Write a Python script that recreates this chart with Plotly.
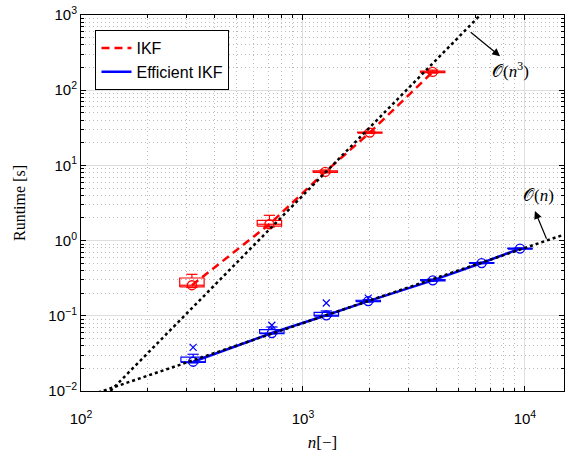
import plotly.graph_objects as go

# ---- data ----
n_ikf = [316, 706, 1260, 2000, 3840]
ikf_mid = [0.255, 1.65, 8.2, 27.3, 175]
ikf_q1 = [0.242, 1.56, 8.05, 26.9, 171]
ikf_q3 = [0.318, 1.86, 8.45, 27.8, 179]
ikf_hi = [0.356, 2.17, 8.7, 28.5, 185]
ikf_lo = [0.238, 1.52, 7.95, 26.6, 169]

n_eff = [320, 724, 1274, 1968, 3846, 6383, 9500]
eff_mid = [0.0245, 0.059, 0.1016, 0.157, 0.296, 0.503, 0.783]
eff_q1 = [0.0240, 0.058, 0.099, 0.154, 0.291, 0.496, 0.772]
eff_q3 = [0.0283, 0.0656, 0.111, 0.161, 0.303, 0.510, 0.792]
eff_hi = [0.0308, 0.071, 0.116, 0.164, 0.308, 0.515, 0.800]
eff_lo = [0.0236, 0.0572, 0.098, 0.152, 0.288, 0.492, 0.766]
eff_out_n = [320, 724, 1274, 1968]
eff_out = [0.038, 0.0748, 0.148, 0.172]

ref_cubic_n = [100, 6500]
ref_cubic_y = [0.004, 1100]
ref_linear_n = [100, 15000]
ref_linear_y = [0.008, 1.2]

x_tick_vals = [100, 1000, 10000]
x_tick_text = ["10<sup>2</sup>", "10<sup>3</sup>", "10<sup>4</sup>"]
y_tick_vals = [0.01, 0.1, 1, 10, 100, 1000]
y_tick_text = ["10<sup>−2</sup>", "10<sup>−1</sup>", "10<sup>0</sup>",
               "10<sup>1</sup>", "10<sup>2</sup>", "10<sup>3</sup>"]
minor_mult = [2, 3, 4, 5, 6, 7, 8, 9]
x_minor_vals = [m * d for d in [100, 1000, 10000] for m in minor_mult if m * d <= 15000]
y_minor_vals = [m * d for d in [0.01, 0.1, 1, 10, 100] for m in minor_mult]

RED = "#ff0000"
BLUE = "#0000ff"

BOX_F = 1.135   # half box width as multiplicative factor on the log x axis
CAP_F = 1.06


def box_path(ns, q1, q3, mid, hi, lo):
    xs, ys = [], []
    for n, a, b, m, h, l in zip(ns, q1, q3, mid, hi, lo):
        x0, x1 = n / BOX_F, n * BOX_F
        c0, c1 = n / CAP_F, n * CAP_F
        xs += [x0, x1, x1, x0, x0, None, x0, x1, None,
               n, n, None, c0, c1, None, n, n, None, c0, c1, None]
        ys += [a, a, b, b, a, None, m, m, None,
               b, h, None, h, h, None, a, l, None, l, l, None]
    return xs, ys


fig = go.Figure()

bx, by = box_path(n_ikf, ikf_q1, ikf_q3, ikf_mid, ikf_hi, ikf_lo)
fig.add_trace(go.Scatter(x=bx, y=by, mode="lines", line=dict(color=RED, width=1.2),
                         showlegend=False, hoverinfo="skip"))
bx, by = box_path(n_eff, eff_q1, eff_q3, eff_mid, eff_hi, eff_lo)
fig.add_trace(go.Scatter(x=bx, y=by, mode="lines", line=dict(color=BLUE, width=1.2),
                         showlegend=False, hoverinfo="skip"))
fig.add_trace(go.Scatter(x=eff_out_n, y=eff_out, mode="markers",
                         marker=dict(symbol="x-thin", size=7, line=dict(color=BLUE, width=1.2)),
                         showlegend=False))

fig.add_trace(go.Scatter(x=n_ikf, y=ikf_mid, mode="lines", name="IKF",
                         line=dict(color=RED, width=2.5, dash="8px,5px")))
fig.add_trace(go.Scatter(x=n_ikf, y=ikf_mid, mode="markers", showlegend=False,
                         marker=dict(symbol="circle-open", size=9, color=RED,
                                     line=dict(width=1.3, color=RED))))
fig.add_trace(go.Scatter(x=n_eff, y=eff_mid, mode="lines", name="Efficient IKF",
                         line=dict(color=BLUE, width=2.5)))
fig.add_trace(go.Scatter(x=n_eff, y=eff_mid, mode="markers", showlegend=False,
                         marker=dict(symbol="circle-open", size=9, color=BLUE,
                                     line=dict(width=1.3, color=BLUE))))

fig.add_trace(go.Scatter(x=ref_cubic_n, y=ref_cubic_y, mode="lines", showlegend=False,
                         line=dict(color="black", width=2.5, dash="dot")))
fig.add_trace(go.Scatter(x=ref_linear_n, y=ref_linear_y, mode="lines", showlegend=False,
                         line=dict(color="black", width=2.5, dash="dot")))

serif = "Liberation Serif, DejaVu Serif, serif"
sans = "Liberation Sans, Arial, sans-serif"

# arrows (log10 coordinates on log axes)
fig.add_annotation(x=3.888, y=2.451, ax=3.749, ay=2.787, xref="x", yref="y",
                   axref="x", ayref="y", text="", showarrow=True,
                   arrowhead=2, arrowsize=1.3, arrowwidth=1.2, arrowcolor="black")
fig.add_annotation(x=3.934, y=2.265, xref="x", yref="y", showarrow=False,
                   text="𝒪(<i>n</i><sup>3</sup>)", font=dict(family=serif, size=17, color="black"))
fig.add_annotation(x=4.045, y=0.394, ax=4.100, ay=0.004, xref="x", yref="y",
                   axref="x", ayref="y", text="", showarrow=True,
                   arrowhead=2, arrowsize=1.3, arrowwidth=1.2, arrowcolor="black")
fig.add_annotation(x=4.060, y=0.602, xref="x", yref="y", showarrow=False,
                   text="𝒪(<i>n</i>)", font=dict(family=serif, size=17, color="black"))

minor_common = dict(tickmode="array", ticks="inside", ticklen=3, tickcolor="black",
                    showgrid=True, gridcolor="#bdbdbd", griddash="1px,3px", gridwidth=1)

axis_common = dict(
    type="log", showline=True, linecolor="black", linewidth=1, mirror="allticks",
    ticks="inside", ticklen=5, tickcolor="black", tickwidth=1, automargin=False,
    showgrid=True, gridcolor="#dedede", gridwidth=1, zeroline=False,
    tickfont=dict(family=sans, size=15, color="black"),
)

fig.update_layout(
    width=568, height=452,
    margin=dict(l=81, r=4, t=15, b=61, autoexpand=False),
    paper_bgcolor="white", plot_bgcolor="white",
    xaxis=dict(axis_common, range=[2, 4.176],
               tickvals=x_tick_vals, ticktext=x_tick_text, tickmode="array",
               ticklabelstandoff=14,
               minor=dict(minor_common, tickvals=x_minor_vals),
               title=dict(text="<i>n</i>[−]", font=dict(family=serif, size=17, color="black"),
                          standoff=16)),
    yaxis=dict(axis_common, range=[-2, 3],
               tickvals=y_tick_vals, ticktext=y_tick_text, tickmode="array",
               minor=dict(minor_common, tickvals=y_minor_vals),
               title=dict(text="Runtime [s]", font=dict(family=serif, size=16, color="black"),
                          standoff=18)),
    legend=dict(x=0.03, y=0.96, xanchor="left", yanchor="top",
                bgcolor="white", bordercolor="black", borderwidth=1,
                font=dict(family=sans, size=16, color="black"),
                tracegroupgap=0),
    showlegend=True,
)

fig.write_html("out.html", config={"displayModeBar": False},
               post_script="document.body.style.margin='0';document.body.style.overflow='hidden';")
